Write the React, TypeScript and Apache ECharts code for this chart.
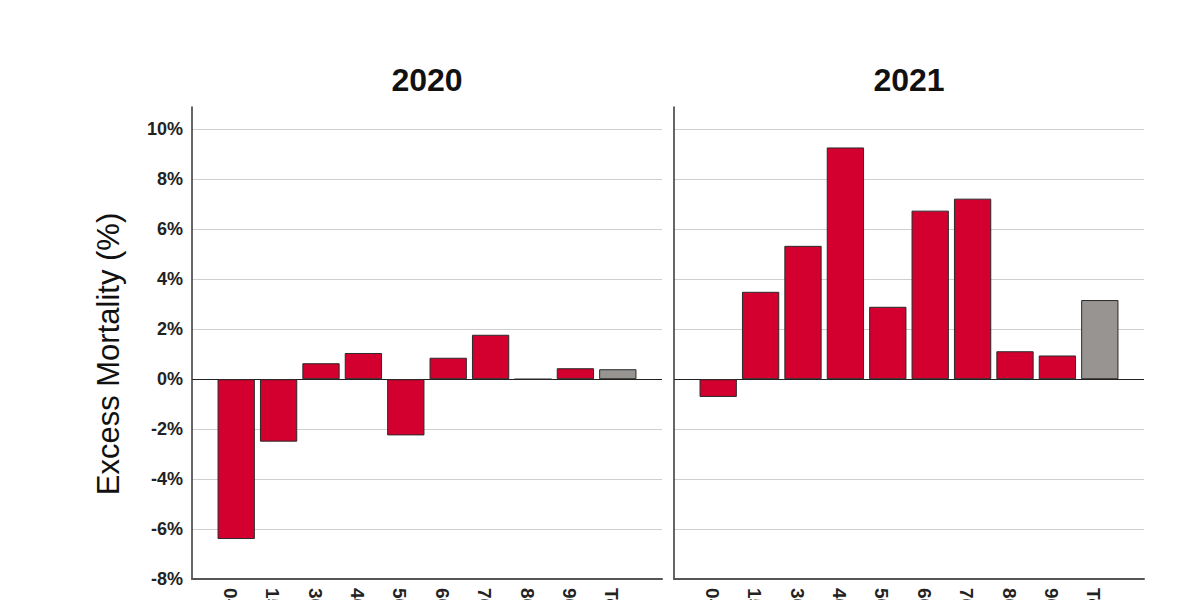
import React, { useEffect, useRef } from "react";
import * as echarts from "echarts";

const categories = ["0-14", "15-29", "30-39", "40-49", "50-59", "60-69", "70-79", "80-89", "90+", "Total"];
const values2020 = [-6.4, -2.5, 0.64, 1.05, -2.25, 0.86, 1.78, 0, 0.44, 0.4];
const values2021 = [-0.71, 3.5, 5.34, 9.28, 2.9, 6.75, 7.23, 1.12, 0.95, 3.17];
const panelTitles = ["2020", "2021"];
const yTitle = "Excess Mortality (%)";

const RED = "#D3002F";
const GREY = "#979492";

function toData(vals: number[]) {
  return vals.map((v, i) => ({
    value: v,
    itemStyle: {
      color: i === vals.length - 1 ? GREY : RED,
      borderColor: "#2a2a2a",
      borderWidth: 1,
    },
  }));
}

export default function App() {
  const ref = useRef<HTMLDivElement>(null);
  useEffect(() => {
    document.body.style.margin = "0";
    const chart = echarts.init(ref.current!, null, { renderer: "svg" });
    const font = "'Liberation Sans', Arial, sans-serif";
    const base = { top: 107, bottom: 21, outerBoundsMode: "none", containLabel: false };
    // grids 0,1: frame (axis lines, gridlines); grids 2,3: bars (inset)
    const grids = [
      { ...base, left: 192, right: 538 },
      { ...base, left: 674, right: 56 },
      { ...base, left: 215, right: 561 },
      { ...base, left: 697, right: 79 },
    ];
    const gridColors = ["#cfcfcf", "#cfcfcf", "#cfcfcf", "#cfcfcf", "#222222", "#cfcfcf", "#cfcfcf", "#cfcfcf", "#cfcfcf", "#cfcfcf"];
    const xAxes: any[] = [];
    const yAxes: any[] = [];
    [0, 1].forEach((i) => {
      xAxes.push({
        type: "value",
        gridIndex: i,
        min: 0,
        max: 1,
        axisLine: { show: true, onZero: false, lineStyle: { color: "#555", width: 2 } },
        axisTick: { show: false },
        axisLabel: { show: false },
        splitLine: { show: false },
      });
      yAxes.push({
        type: "value",
        gridIndex: i,
        min: -8,
        max: 10.9,
        interval: 2,
        axisLine: { show: true, lineStyle: { color: "#333", width: 1.5 } },
        axisTick: { show: false },
        axisLabel: {
          show: i === 0,
          margin: 9,
          fontSize: 18,
          fontWeight: "bold",
          fontFamily: font,
          color: "#222",
          showMaxLabel: false,
          formatter: (v: number) => (Number.isInteger(v) ? `${v}%` : ""),
        },
        splitLine: {
          show: true,
          showMaxLine: false,
          lineStyle: { color: gridColors, width: 1 },
        },
      });
    });
    [2, 3].forEach((i) => {
      xAxes.push({
        type: "category",
        gridIndex: i,
        data: categories,
        axisLine: { show: false, onZero: false },
        axisTick: { show: false },
        axisLabel: {
          interval: 0,
          rotate: -90,
          margin: 9,
          verticalAlign: "top",
          lineHeight: 12,
          fontSize: 19,
          fontWeight: "bold",
          fontFamily: font,
          color: "#222",
        },
      });
      yAxes.push({
        type: "value",
        gridIndex: i,
        min: -8,
        max: 10.9,
        interval: 2,
        show: false,
        splitLine: { show: false },
      });
    });
    const mk = (vals: number[], i: number) => ({
      type: "bar",
      xAxisIndex: i,
      yAxisIndex: i,
      data: toData(vals),
      barCategoryGap: "12%",
    });
    const titleStyle = {
      fontSize: 32,
      fontWeight: "bold",
      fontFamily: font,
      fill: "#111",
      textAlign: "center",
      textVerticalAlign: "middle",
    };
    chart.setOption({
      animation: false,
      grid: grids,
      xAxis: xAxes,
      yAxis: yAxes,
      series: [mk(values2020, 2), mk(values2021, 3)],
      graphic: [
        { type: "text", x: 427, y: 80, style: { ...titleStyle, text: panelTitles[0] } },
        { type: "text", x: 909, y: 80, style: { ...titleStyle, text: panelTitles[1] } },
        {
          type: "text",
          x: 108,
          y: 354,
          rotation: Math.PI / 2,
          style: {
            text: yTitle,
            fontSize: 31,
            fontFamily: font,
            fill: "#111",
            textAlign: "center",
            textVerticalAlign: "middle",
          },
        },
      ],
    });
    return () => chart.dispose();
  }, []);
  return (
    <div
      ref={ref}
      style={{ position: "absolute", left: 0, top: 0, width: 1200, height: 600 }}
    />
  );
}
